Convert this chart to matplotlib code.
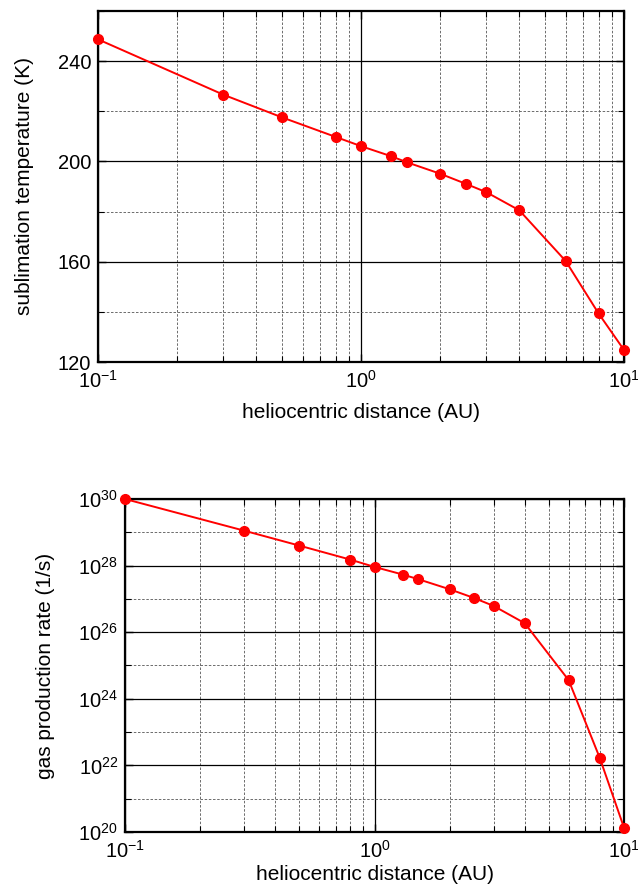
import matplotlib
matplotlib.use("Agg")
import matplotlib.pyplot as plt
import numpy as np
from matplotlib.ticker import LogLocator, FixedLocator, NullFormatter, LogFormatterMathtext

plt.rcParams['font.family'] = ['Liberation Sans', 'DejaVu Sans']
plt.rcParams['mathtext.fontset'] = 'custom'
plt.rcParams['mathtext.rm'] = 'Liberation Sans'
plt.rcParams['mathtext.it'] = 'Liberation Sans:italic'

distance = [0.1, 0.3, 0.5, 0.8, 1.0, 1.3, 1.5, 2.0, 2.5, 3.0, 4.0, 6.0, 8.0, 10.0]
temperature = [248.7, 226.6, 217.6, 209.8, 206.1, 202.1, 199.6, 195.1, 191.1, 187.7, 180.5, 160.3, 139.4, 124.8]
log_production = [30.0, 29.05, 28.6, 28.18, 27.96, 27.73, 27.59, 27.29, 27.03, 26.79, 26.27, 24.56, 22.22, 20.13]
production = [10 ** v for v in log_production]

fig = plt.figure(figsize=(6.38, 8.88), dpi=100)
W, H = 638, 888
ax1 = fig.add_axes([98 / W, 1 - 362 / H, (624 - 98) / W, (362 - 11) / H])
ax2 = fig.add_axes([125 / W, 1 - 832 / H, (624 - 125) / W, (832 - 499) / H])

for ax in (ax1, ax2):
    ax.set_xscale('log')
    ax.set_xlim(0.1, 10)
    ax.xaxis.set_major_locator(LogLocator(base=10, numticks=10))
    ax.xaxis.set_minor_locator(LogLocator(base=10, subs=np.arange(2, 10), numticks=10))
    ax.xaxis.set_minor_formatter(NullFormatter())
    ax.xaxis.set_major_formatter(LogFormatterMathtext())
    ax.grid(which='major', color='black', linestyle='-', linewidth=0.9)
    ax.grid(which='minor', color='#555555', linestyle=(0, (3, 2)), linewidth=0.6)
    for s in ax.spines.values():
        s.set_linewidth(1.6)
    ax.tick_params(which='both', direction='in', top=True, right=True, labelsize=14.5)
    ax.tick_params(axis='y', which='both', pad=5)
    ax.tick_params(which='major', length=6, width=1)
    ax.tick_params(which='minor', length=4, width=0.8)
    ax.set_axisbelow(True)

ax1.tick_params(axis='x', which='both', pad=6)
ax1.set_xlabel('heliocentric distance (AU)', fontsize=15, labelpad=8)
ax2.tick_params(axis='x', which='both', pad=6)
ax2.set_xlabel('heliocentric distance (AU)', fontsize=15, labelpad=2)

ax1.plot(distance, temperature, color='red', linewidth=1.4, marker='o', markersize=7, clip_on=False, zorder=5)
ax1.set_ylim(120, 260)
ax1.yaxis.set_major_locator(FixedLocator([120, 160, 200, 240]))
ax1.yaxis.set_minor_locator(FixedLocator([140, 180, 220, 260]))
ax1.set_ylabel('sublimation temperature (K)', fontsize=15, labelpad=17)

ax2.plot(distance, production, color='red', linewidth=1.4, marker='o', markersize=7, clip_on=False, zorder=5)
ax2.set_yscale('log')
ax2.set_ylim(1e20, 1e30)
ax2.yaxis.set_major_locator(FixedLocator([1e20, 1e22, 1e24, 1e26, 1e28, 1e30]))
ax2.yaxis.set_minor_locator(FixedLocator([1e21, 1e23, 1e25, 1e27, 1e29]))
ax2.yaxis.set_major_formatter(LogFormatterMathtext())
ax2.yaxis.set_minor_formatter(NullFormatter())
ax2.set_ylabel('gas production rate (1/s)', fontsize=15, labelpad=17)

fig.savefig('out.png', dpi=100)
